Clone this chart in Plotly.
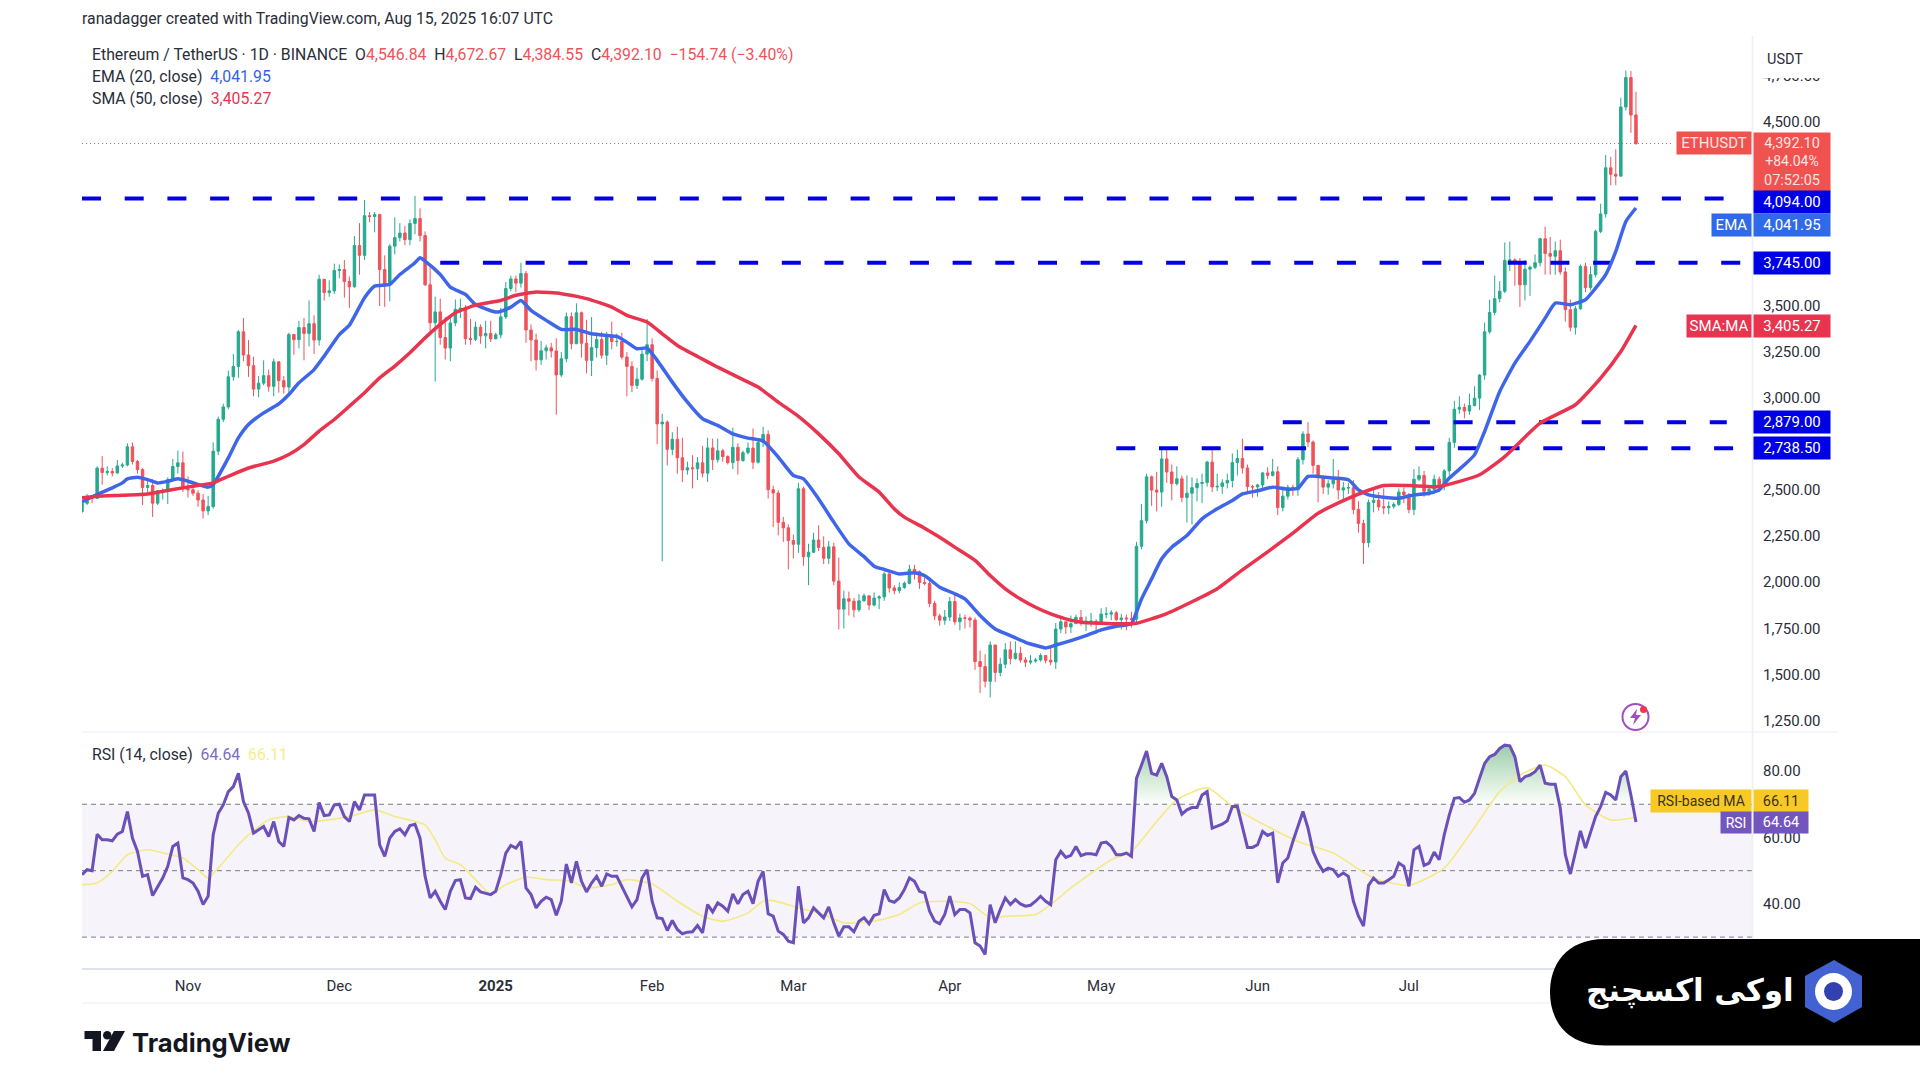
import numpy as np
import pandas as pd
import plotly.graph_objects as go

W = 1920
H = 1081

first_open = 2395
# daily values, Oct 11 2024 -> Aug 15 2025, one line per month
closes = [
    2439,2476,2466,2630,2606,2612,2604,2642,2647,2746,2666,2622,2525,2536,2440,2507,2507,2568,2639,2659,2518,
    2513,2494,2457,2398,2422,2722,2895,2962,3126,3182,3370,3244,3186,3059,3091,3132,3074,3207,3105,3070,3355,3327,3393,3361,3414,3325,3655,3583,3592,3703,
    3708,3643,3614,3838,3785,4000,3996,4006,3708,3627,3835,3881,3906,3870,3958,3985,3892,3625,3419,3478,3339,3282,3418,3492,3498,3333,3329,3395,3348,3361,3332,
    3354,3451,3605,3657,3634,3686,3380,3326,3218,3267,3283,3266,3136,3224,3452,3305,3473,3308,3215,3284,3328,3243,3340,3317,3318,3233,3182,3079,3113,3249,3300,
    3117,2870,2880,2732,2787,2686,2620,2632,2627,2659,2603,2740,2676,2724,2693,2660,2743,2671,2714,2739,2662,2769,2813,2513,2495,2336,2306,2237,
    2217,2518,2149,2174,2240,2200,2141,2203,2017,1865,1921,1908,1861,1910,1937,1887,1925,1931,2056,1980,1965,1982,2005,2081,2068,2010,2004,1896,1828,1805,1822,
    1906,1796,1817,1816,1806,1580,1553,1473,1670,1521,1566,1644,1597,1625,1589,1577,1583,1589,1613,1587,1578,1757,1796,1768,1786,1820,1793,1799,1799,1793,
    1838,1838,1845,1808,1817,1812,1810,2206,2345,2583,2511,2500,2680,2609,2546,2572,2471,2494,2524,2547,2552,2663,2528,2531,2550,2563,2660,2682,2631,2530,2528,
    2539,2604,2591,2610,2416,2478,2526,2513,2676,2815,2772,2645,2580,2527,2545,2566,2511,2523,2524,2406,2330,2226,2444,2456,2420,2415,2423,2433,2500,2486,
    2405,2570,2590,2505,2515,2570,2540,2615,2770,2950,2960,2940,2970,3010,3135,3370,3475,3550,3590,3757,3760,3750,3625,3710,3720,3745,3875,3795,3780,3810,3695,
    3490,3395,3495,3725,3610,3680,3915,4010,4260,4225,4215,4590,4750,4546.84,4392.10,
]
highs = [
    2460,2490,2480,2640,2695,2640,2630,2675,2660,2765,2770,2675,2630,2560,2570,2510,2520,2580,2680,2725,2720,
    2585,2560,2510,2490,2480,2770,2910,2980,3160,3250,3380,3445,3325,3235,3130,3215,3165,3225,3210,3130,3365,3350,3430,3445,3540,3460,3680,3655,3650,3740,
    3735,3760,3670,3890,3960,4085,4020,4020,4010,3785,3845,3990,3960,3945,3980,4108,4040,3915,3720,3560,3550,3450,3450,3545,3550,3515,3440,3425,3410,3430,3430,
    3365,3500,3640,3675,3675,3745,3700,3410,3360,3320,3300,3310,3335,3260,3475,3475,3525,3480,3435,3450,3365,3370,3370,3425,3360,3365,3260,3210,3175,3285,3440,
    3335,3160,2925,2890,2825,2855,2795,2665,2700,2690,2750,2795,2790,2790,2735,2700,2850,2765,2725,2770,2845,2785,2855,2835,2535,2510,2365,2325,
    2270,2550,2530,2220,2280,2320,2260,2235,2225,2145,1965,1960,1925,1945,1950,1940,1955,1940,2065,2065,1995,2010,2015,2105,2105,2075,2035,2030,1910,1840,1860,
    1930,1945,1840,1835,1825,1820,1640,1620,1690,1670,1600,1680,1690,1690,1660,1605,1615,1600,1625,1615,1660,1790,1830,1795,1830,1835,1860,1825,1845,1810,
    1870,1875,1860,1855,1840,1835,1850,2230,2435,2600,2590,2610,2735,2730,2650,2640,2590,2590,2580,2575,2600,2670,2735,2600,2570,2600,2710,2730,2790,2650,2540,
    2545,2610,2635,2680,2640,2520,2540,2540,2690,2830,2880,2780,2645,2590,2565,2680,2620,2555,2550,2565,2450,2350,2460,2520,2500,2520,2450,2445,2520,2525,
    2495,2625,2640,2615,2530,2595,2585,2625,2795,2995,3020,2980,3035,3075,3140,3420,3545,3675,3645,3855,3860,3770,3770,3760,3730,3790,3880,3940,3885,3860,3870,
    3720,3545,3510,3735,3745,3725,3925,4065,4330,4320,4360,4640,4788,4785,4672.67,
]
lows = [
    2385,2430,2440,2465,2540,2590,2585,2600,2630,2640,2650,2600,2430,2500,2365,2430,2460,2435,2555,2600,2500,
    2470,2480,2420,2357,2375,2410,2700,2880,2950,3105,3120,3210,3125,3020,3015,3080,3045,3020,3040,3035,3030,3245,3280,3215,3290,3250,3295,3540,3560,3575,
    3660,3555,3500,3610,3680,3760,3965,3910,3510,3505,3535,3790,3860,3840,3840,3900,3860,3620,3360,3100,3300,3220,3210,3400,3445,3300,3300,3320,3305,3280,3315,
    3330,3335,3440,3590,3585,3610,3310,3210,3160,3190,3220,3230,2920,3125,3205,3275,3305,3230,3145,3130,3230,3225,3190,3275,3290,3220,3020,3043,3060,3105,3210,
    3100,2760,2125,2645,2700,2600,2555,2595,2520,2565,2580,2555,2620,2660,2665,2650,2625,2595,2665,2705,2625,2655,2745,2465,2310,2265,2230,2080,
    2140,2170,2100,1995,2170,2180,2110,2110,1995,1755,1760,1830,1820,1850,1905,1860,1880,1865,1910,1955,1945,1950,1975,2000,2025,1975,1995,1875,1805,1775,1780,
    1800,1780,1750,1760,1765,1535,1410,1440,1385,1470,1500,1545,1565,1590,1575,1550,1565,1575,1580,1570,1560,1540,1735,1730,1735,1785,1775,1745,1770,1730,
    1790,1815,1805,1800,1755,1750,1765,1795,2190,2330,2425,2395,2420,2550,2455,2535,2445,2335,2325,2450,2440,2530,2500,2505,2490,2520,2525,2590,2600,2500,2470,
    2475,2515,2570,2585,2375,2395,2460,2480,2480,2650,2745,2600,2445,2490,2485,2520,2460,2450,2490,2380,2280,2110,2200,2390,2400,2380,2380,2410,2425,2440,
    2385,2375,2560,2475,2480,2490,2500,2510,2590,2740,2925,2900,2920,2965,2945,3110,3360,3460,3530,3580,3700,3620,3505,3540,3565,3710,3725,3680,3680,3680,3680,
    3425,3372,3355,3490,3585,3595,3665,3905,3990,4165,4165,4210,4570,4450,4384.55,
]
rsi = [
    48.8,50.3,50.0,61.0,59.3,59.3,59.0,61.0,61.8,67.8,59.8,55.8,48.3,48.8,42.5,45.3,47.8,51.3,57.3,58.3,
    47.8,47.3,46.3,43.8,39.8,42.3,60.8,67.3,69.8,73.8,75.3,79.3,70.8,67.3,61.3,62.3,63.3,60.3,64.8,58.8,
    57.3,66.0,65.3,66.6,65.8,65.6,61.8,70.5,66.6,66.8,69.8,70.0,66.3,64.8,70.8,68.3,72.8,72.8,72.8,57.8,
    54.3,59.8,61.8,62.6,60.8,63.6,64.0,59.8,48.3,41.8,43.8,40.8,38.3,43.8,47.0,47.3,41.8,41.6,45.0,43.6,
    43.3,42.8,43.8,48.8,55.3,57.6,56.8,58.8,44.8,42.8,38.8,40.8,42.0,41.3,36.6,40.8,52.0,46.3,52.8,46.8,
    43.6,46.3,48.3,45.3,49.0,48.3,48.3,45.3,42.3,39.1,41.3,47.8,50.3,40.8,35.8,35.6,32.0,35.0,32.3,31.0,
    31.5,31.6,33.5,31.3,39.8,37.6,40.3,39.3,37.8,43.0,40.0,42.8,43.8,40.1,46.8,49.8,37.0,36.3,31.8,30.8,
    28.8,28.3,45.3,34.3,35.8,38.8,37.3,35.8,39.1,34.3,30.3,33.1,33.1,31.6,34.8,35.8,34.0,36.6,37.0,44.3,
    41.0,40.5,41.8,44.3,47.8,46.8,43.8,43.3,37.8,34.8,34.0,36.8,42.3,36.8,38.3,38.3,37.3,28.3,27.3,24.8,
    39.8,34.3,38.3,41.8,39.8,41.3,40.0,39.3,39.6,40.8,42.3,40.8,39.8,53.3,55.8,54.0,54.6,57.3,54.5,55.1,
    55.1,54.8,58.3,58.6,57.3,54.8,54.8,55.3,54.3,77.8,81.8,86.0,79.3,78.8,82.3,78.3,72.3,71.3,67.0,68.3,
    69.0,69.0,72.8,73.8,62.8,63.3,64.0,65.0,69.3,69.3,62.8,57.0,57.0,57.8,61.8,60.6,61.3,46.3,52.3,53.8,
    58.8,63.3,67.8,62.8,55.8,52.3,49.8,50.8,50.3,48.3,49.3,48.3,40.8,36.3,33.3,45.6,47.8,46.3,46.3,47.3,
    48.3,52.3,51.3,45.3,56.3,57.3,51.6,52.3,55.6,53.3,60.8,66.8,71.8,72.0,70.6,71.3,73.3,77.8,82.3,84.3,
    85.0,86.8,87.8,87.6,84.3,76.8,78.3,78.8,79.8,81.8,76.3,76.0,76.0,68.8,54.8,49.0,55.8,62.0,56.8,61.8,
    66.3,69.3,73.6,72.8,71.3,78.3,80.0,72.8,64.64,
]

# lines read at every few days, index = days since first candle
ema_days = [0,3,6,8,9,11,13,15,17,19,21,23,25,26,27,29,31,33,36,39,41,43,46,48,51,53,56,58,61,63,66,67,68,71,73,76,78,
            82,83,85,87,89,92,95,98,101,104,106,108,110,112,114,117,120,123,126,129,132,135,138,141,143,146,149,152,155,
            157,159,162,165,167,170,173,175,178,181,184,187,190,191,193,196,199,202,205,207,208,210,212,214,216,219,222,225,228,230,
            233,236,239,241,243,245,248,251,253,255,258,261,264,267,269,271,274,276,278,281,284,287,290,292,295,298,300,302,304,306,308]
ema_values = [2447,2487,2523,2550,2572,2581,2568,2550,2559,2572,2559,2541,2527,2541,2586,2686,2794,2867,2930,2979,3030,3093,3165,3238,3355,3406,3555,3618,3627,3681,3745,3772,3754,3681,3613,3573,3518,
              3477,3481,3504,3540,3486,3432,3383,3383,3359,3350,3345,3314,3278,3282,3215,3097,2988,2898,2862,2816,2793,2777,2690,2590,2572,2463,2337,2219,2150,
              2098,2080,2056,2062,2047,1984,1948,1920,1830,1757,1721,1685,1661,1654,1670,1694,1721,1752,1772,1779,1786,1920,2029,2138,2201,2264,2355,2409,2454,2490,
              2507,2527,2516,2521,2585,2585,2576,2567,2512,2485,2472,2467,2485,2494,2512,2576,2648,2702,2829,3046,3200,3318,3444,3526,3517,3544,3607,3680,3806,3969,4041.95]
sma_days = [0,3,8,13,18,22,26,29,33,38,41,44,47,50,53,56,59,62,65,68,71,74,78,
            83,86,90,95,100,105,108,112,115,118,122,126,130,134,138,142,146,150,154,
            158,161,163,167,170,174,177,180,183,186,189,192,195,198,202,206,209,215,220,225,230,
            235,240,245,251,255,258,263,269,277,282,289,296,301,305,308]
sma_values = [2469,2478,2483,2490,2514,2532,2550,2586,2631,2668,2704,2758,2831,2894,2966,3039,3120,3184,3256,3337,3410,3473,3515,
              3540,3568,3586,3577,3550,3504,3459,3423,3359,3296,3236,3178,3124,3070,2988,2911,2816,2708,2582,
              2500,2409,2364,2304,2255,2183,2129,2047,1975,1920,1875,1839,1812,1794,1788,1785,1788,1841,1905,1976,2078,
              2176,2277,2385,2466,2510,2536,2536,2530,2594,2693,2874,2974,3119,3263,3405.27]
ma_days = [0,3,6,9,13,17,20,23,25,27,31,33,37,41,45,49,53,58,62,68,70,72,75,78,81,84,88,92,97,100,
           105,108,113,118,123,127,132,135,137,142,147,151,157,162,166,171,176,180,183,189,192,196,204,
           208,213,217,223,228,235,241,248,256,263,270,275,281,285,290,294,298,303,308]
ma_values = [45.8,46.3,49.8,54.8,56.3,55.0,53.8,50.3,47.8,50.8,57.8,60.8,65.3,66.3,64.8,65.3,66.3,68.3,66.3,63.8,59.3,53.8,51.8,47.3,43.0,45.8,48.0,47.3,46.8,44.8,
             45.8,47.3,46.0,40.8,36.3,34.8,37.3,40.8,41.0,38.8,36.8,34.3,34.8,36.8,40.3,40.8,40.1,35.8,36.3,36.8,39.8,44.8,53.3,
             55.8,64.8,71.3,75.0,69.3,63.3,58.8,55.3,47.8,45.6,50.8,60.8,73.8,78.8,81.8,78.3,69.8,65.3,66.11]

levels = [4094.00, 3745.00, 2879.00, 2738.50]
level_from = [0, 71, 238, 205]
level_to = [326, 329, 326, 328]
last_price = 4392.10
price_ticks = [4750, 4500, 3500, 3250, 3000, 2500, 2250, 2000, 1750, 1500, 1250]
rsi_ticks = [80, 60, 40]
month_ticks = ["2024-11-01","2024-12-01","2025-01-01","2025-02-01","2025-03-01","2025-04-01","2025-05-01","2025-06-01","2025-07-01","2025-08-01"]
month_labels = ["Nov","Dec","<b>2025</b>","Feb","Mar","Apr","May","Jun","Jul","Aug"]

assert len(closes) == len(highs) == len(lows) == len(rsi) == 309

FONT = "Roboto, sans-serif"
UP = "#26a98f"
DOWN = "#f0525a"
BLUE = "#3f66e8"
RED = "#e8344e"
LEVEL = "#0000e6"
PURPLE = "#6a50b8"
TEXT = "#2a2e39"


def px(x):
    return x / W


def py(y):
    return 1 - y / H


def pth(points):
    return "M " + " L ".join(f"{px(a):.5f} {py(b):.5f}" for a, b in points) + " Z"


dates = pd.date_range("2024-10-11", periods=len(closes))
opens = [first_open] + closes[:-1]

fig = go.Figure()
fig.add_trace(go.Candlestick(
    x=dates, open=opens, high=highs, low=lows, close=closes, xaxis="x", yaxis="y",
    increasing=dict(line=dict(color=UP, width=1), fillcolor=UP),
    decreasing=dict(line=dict(color=DOWN, width=1), fillcolor=DOWN),
    hoverinfo="skip", showlegend=False))

# dotted last price line
fig.add_trace(go.Scatter(x=[dates[0], dates[0] + pd.Timedelta(days=315)], y=[last_price, last_price], mode="lines",
                         line=dict(color=DOWN, width=1, dash="1px,3px"), xaxis="x", yaxis="y", hoverinfo="skip", showlegend=False))

for lv, a, b in zip(levels, level_from, level_to):
    fig.add_trace(go.Scatter(x=[dates[0] + pd.Timedelta(days=a), dates[0] + pd.Timedelta(days=b)], y=[lv, lv], mode="lines",
                             line=dict(color=LEVEL, width=4, dash="19px,23.7px"), xaxis="x", yaxis="y", hoverinfo="skip", showlegend=False))

fig.add_trace(go.Scatter(x=dates[ema_days], y=ema_values, mode="lines", line=dict(color=BLUE, width=3.5, shape="spline", smoothing=0.5),
                         xaxis="x", yaxis="y", hoverinfo="skip", showlegend=False))
fig.add_trace(go.Scatter(x=dates[sma_days], y=sma_values, mode="lines", line=dict(color=RED, width=3.5, shape="spline", smoothing=0.5),
                         xaxis="x", yaxis="y", hoverinfo="skip", showlegend=False))

# overbought fill in RSI pane
fig.add_trace(go.Scatter(x=dates[205:], y=[70] * len(dates[205:]), mode="lines", line=dict(width=0),
                         xaxis="x2", yaxis="y2", hoverinfo="skip", showlegend=False))
fig.add_trace(go.Scatter(x=dates[205:], y=np.maximum(rsi[205:], 70), mode="lines", line=dict(width=0), fill="tonexty",
                         fillgradient=dict(type="vertical", colorscale=[[0, "rgba(76,175,80,0.02)"], [1, "rgba(56,150,90,0.5)"]]),
                         xaxis="x2", yaxis="y2", hoverinfo="skip", showlegend=False))
fig.add_trace(go.Scatter(x=dates[ma_days], y=ma_values, mode="lines", line=dict(color="#f4ea85", width=1.6, shape="spline", smoothing=0.6),
                         xaxis="x2", yaxis="y2", hoverinfo="skip", showlegend=False))
fig.add_trace(go.Scatter(x=dates, y=rsi, mode="lines", line=dict(color=PURPLE, width=3),
                         xaxis="x2", yaxis="y2", hoverinfo="skip", showlegend=False))

x_range = [dates[0], dates[0] + pd.Timedelta(days=331)]
x_dom = [px(82), px(1752)]
axis_font = dict(family=FONT, size=15, color=TEXT)
fig.update_layout(
    width=W, height=H, margin=dict(l=0, r=0, t=0, b=0), paper_bgcolor="white", plot_bgcolor="white",
    font=dict(family=FONT), hovermode=False,
    xaxis=dict(domain=x_dom, range=x_range, anchor="y", showticklabels=False, showgrid=False, zeroline=False, rangeslider=dict(visible=False)),
    yaxis=dict(domain=[py(732), py(37)], range=[1198, 4970], side="right", anchor="x", tickvals=price_ticks, tickformat=",.2f",
               showgrid=False, zeroline=False, ticks="", tickfont=axis_font, ticklabelstandoff=10, ticklabelshift=-2),
    xaxis2=dict(domain=x_dom, range=x_range, anchor="y2", tickvals=month_ticks, ticktext=month_labels, showgrid=False, zeroline=False,
                ticks="", tickfont=axis_font, ticklabelstandoff=3, showline=True, linecolor="#dfe2ea", linewidth=1.5),
    yaxis2=dict(domain=[py(968), py(736.5)], range=[20.7, 90.4], side="right", anchor="x2", tickvals=rsi_ticks, tickformat=".2f",
                showgrid=False, zeroline=False, ticks="", tickfont=axis_font, ticklabelstandoff=10),
)

# RSI band and its dashed levels
fig.add_shape(type="rect", xref="paper", yref="y2", x0=px(82), x1=px(1752), y0=30, y1=70, fillcolor="rgba(126,87,194,0.07)", line_width=0, layer="below")
for v in [70, 50, 30]:
    fig.add_shape(type="line", xref="paper", yref="y2", x0=px(82), x1=px(1752), y0=v, y1=v, line=dict(color="#787b86", width=1, dash="5px,4px"), layer="below")

# pane borders
for y in [732, 1003]:
    fig.add_shape(type="line", xref="paper", yref="paper", x0=px(82), x1=px(1838), y0=py(y), y1=py(y), line=dict(color="#f0f3fa", width=1.5))
fig.add_shape(type="line", xref="paper", yref="paper", x0=px(1752.5), x1=px(1752.5), y0=py(36), y1=py(1002), line=dict(color="#eceff5", width=1.5))

# white box behind the USDT label, hides the top tick label partly
fig.add_shape(type="rect", xref="paper", yref="paper", x0=px(1756), x1=px(1828), y0=py(78), y1=py(40), line_width=0, fillcolor="white")

# lightning icon
fig.add_shape(type="circle", xref="paper", yref="paper", x0=px(1622.5), x1=px(1648.5), y0=py(730), y1=py(704), line=dict(color="#a04fc0", width=2), fillcolor="white")
fig.add_shape(type="circle", xref="paper", yref="paper", x0=px(1640), x1=px(1647), y0=py(713), y1=py(706), line_width=0, fillcolor="#f23645")
fig.add_shape(type="path", xref="paper", yref="paper", path=pth([(1637, 709), (1630, 718), (1635, 718), (1633, 725), (1641, 715), (1636, 715)]),
              line_width=0, fillcolor="#a04fc0")

# TradingView logo
fig.add_shape(type="path", xref="paper", yref="paper", path=pth([(84.5, 1031), (101, 1031), (101, 1051), (92.5, 1051), (92.5, 1039), (84.5, 1039)]), line_width=0, fillcolor="#131722")
fig.add_shape(type="circle", xref="paper", yref="paper", x0=px(103), x1=px(111.5), y0=py(1039.5), y1=py(1031), line_width=0, fillcolor="#131722")
fig.add_shape(type="path", xref="paper", yref="paper", path=pth([(114, 1031), (125, 1031), (114, 1051), (103, 1051)]), line_width=0, fillcolor="#131722")

# exchange badge
fig.add_shape(type="path", xref="paper", yref="paper", line_width=0, fillcolor="black",
              path=f"M {px(1920)} {py(939)} L {px(1605)} {py(939)} C {px(1565)} {py(939)} {px(1550)} {py(966)} {px(1550)} {py(992)} "
                   f"C {px(1550)} {py(1019)} {px(1565)} {py(1045.5)} {px(1605)} {py(1045.5)} L {px(1920)} {py(1045.5)} Z")
fig.add_shape(type="path", xref="paper", yref="paper", line_width=0, fillcolor="#4262d2",
              path=pth([(1834, 960), (1862, 976), (1862, 1007), (1834, 1023), (1805, 1007), (1805, 976)]))
fig.add_shape(type="circle", xref="paper", yref="paper", x0=px(1815), x1=px(1852), y0=py(1010), y1=py(973), line_width=0, fillcolor="white")
fig.add_shape(type="circle", xref="paper", yref="paper", x0=px(1824), x1=px(1843), y0=py(1001), y1=py(982), line_width=0, fillcolor="#3340b0")


def label(text, x, y, size=15.8, color=TEXT, family=FONT, anchor="left"):
    fig.add_annotation(text=text, xref="paper", yref="paper", x=px(x), y=py(y), xanchor=anchor, yanchor="middle",
                       showarrow=False, align="left", font=dict(family=family, size=size, color=color))


def tag(text, value, yaxis, x0, x1, height, color, font_color="white", shift=0, anchor="middle", size=15):
    fig.add_annotation(text=text, xref="paper", yref=yaxis, x=px(x0), y=value, xanchor="left", yanchor=anchor, yshift=shift,
                       width=x1 - x0 - 2, height=height, bgcolor=color, borderpad=0, showarrow=False, align="center", valign="middle",
                       font=dict(family=FONT, size=size, color=font_color))


label("ranadagger created with TradingView.com, Aug 15, 2025 16:07 UTC", 80, 19)
label('Ethereum / TetherUS · 1D · BINANCE  O<span style="color:#f0525a">4,546.84</span>  H<span style="color:#f0525a">4,672.67</span>  '
      'L<span style="color:#f0525a">4,384.55</span>  C<span style="color:#f0525a">4,392.10</span>  <span style="color:#f0525a">−154.74 (−3.40%)</span>', 90, 54)
label('EMA (20, close)  <span style="color:#3461e8">4,041.95</span>', 90, 76)
label('SMA (50, close)  <span style="color:#e8344e">3,405.27</span>', 90, 98)
label('RSI (14, close)  <span style="color:#7e6cc0">64.64</span>  <span style="color:#f7ec8a">66.11</span>', 90, 754)
label("<b>TradingView</b>", 130, 1042, size=25.6, color="#131722", family="Inter, sans-serif")
label("<b>اوکی اکسچنج</b>", 1796, 990, size=31, color="white", family="DejaVu Sans", anchor="right")
label("USDT", 1765, 59, size=14.5)

# price axis tags
tag("ETHUSDT", last_price, "y", 1676, 1752, 22, "#f0524f", "#fde3e3")
tag("4,392.10<br><span style='font-size:14px'>+84.04%</span><br>07:52:05", last_price, "y", 1753, 1831, 58, "#f0524f", "#fde3e3", shift=11, anchor="top", size=14.5)
tag("4,094.00", levels[0], "y", 1753, 1831, 22, LEVEL, shift=-4)
tag("EMA", ema_values[-1], "y", 1711, 1752, 22, "#2f6be8", shift=-17)
tag("4,041.95", ema_values[-1], "y", 1753, 1831, 22, "#2f6be8", shift=-17)
tag("3,745.00", levels[1], "y", 1753, 1831, 22, LEVEL)
tag("SMA:MA", sma_values[-1], "y", 1686, 1752, 22, RED, shift=-1)
tag("3,405.27", sma_values[-1], "y", 1753, 1831, 22, RED, shift=-1)
tag("2,879.00", levels[2], "y", 1753, 1831, 22, LEVEL)
tag("2,738.50", levels[3], "y", 1753, 1831, 22, LEVEL)
# RSI axis tags
tag("RSI-based MA", ma_values[-1], "y2", 1650, 1752, 22, "#f8c925", "#3a3320", shift=16, size=14)
tag("66.11", ma_values[-1], "y2", 1753, 1809, 22, "#f8c925", "#3a3320", shift=16, size=14.5)
tag("RSI", rsi[-1], "y2", 1720, 1752, 21, "#7256bd", size=14)
tag("64.64", rsi[-1], "y2", 1753, 1809, 21, "#7256bd", size=14.5)

fig.write_html("out.html", config={"displayModeBar": False}, post_script="document.body.style.margin='0';")
